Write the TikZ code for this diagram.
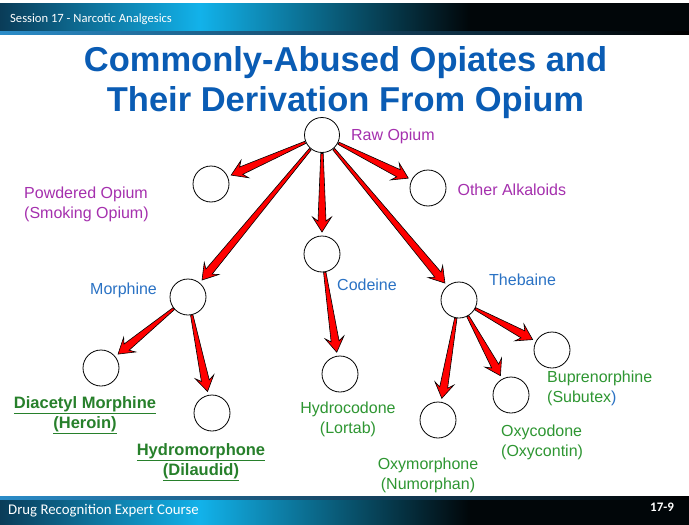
\documentclass[tikz,border=0pt]{standalone}
\usepackage{fontspec}
\setmainfont{Liberation Sans}
\newfontfamily\slidefont{Carlito}
\usepackage{xcolor}
\usetikzlibrary{positioning,calc}

\definecolor{titleblue}{HTML}{0A5CB4}
\definecolor{labelblue}{HTML}{2A72C4}
\definecolor{opiumpurple}{HTML}{A530AE}
\definecolor{drugreen}{HTML}{2E9632}
\definecolor{barcyan}{HTML}{12B2EA}
\definecolor{barteal}{HTML}{0A3C58}
\definecolor{barline}{HTML}{2B8CC8}

% tapered red arrow from one circle to another
\newcommand{\derive}[2]{%
  \coordinate (s) at ($(#1)!18.5pt!(#2)$);
  \coordinate (t) at ($(#2)!22pt!(#1)$);
  \coordinate (j) at ($(t)!11pt!(s)$);
  \coordinate (b) at ($(t)!15pt!(s)$);
  \filldraw[wedge] ($(s)!1.2pt!90:(t)$) -- ($(j)!4pt!90:(t)$) -- ($(b)!9.5pt!90:(t)$) -- (t)
    -- ($(b)!9.5pt!-90:(t)$) -- ($(j)!4pt!-90:(t)$) -- ($(s)!1.2pt!-90:(t)$) -- cycle;
}

\begin{document}
\begin{tikzpicture}[
    x=1pt, y=-1pt,
    node distance=10pt,
    opi/.style={draw, circle, thick, minimum size=36pt, inner sep=0pt, fill=white},
    wedge/.style={fill=red, draw=black, line width=0.6pt, line join=miter},
    lbl/.style={font=\fontsize{16}{20}\selectfont, inner sep=1pt},
    src/.style={lbl, text=opiumpurple, align=left},
    alk/.style={lbl, text=labelblue},
    prod/.style={lbl, text=drugreen, align=center},
    street/.style={lbl, text=drugreen!85!black, align=center, font=\fontsize{16.5}{20}\selectfont\bfseries},
    bartext/.style={text=white, inner sep=0pt, anchor=west}
  ]
    \useasboundingbox (0,0) rectangle (689,525);
    \fill[white] (0,0) rectangle (689,525);

    % header and footer bars
    \shade[left color=barteal, right color=barcyan] (0,3) rectangle (200,31);
    \shade[left color=barcyan, right color=black!90!barteal] (200,3) rectangle (470,31);
    \fill[black!90!barteal] (470,3) rectangle (689,31);
    \shade[left color=barline, right color=black] (0,31) rectangle (689,34);
    \shade[left color=barteal, right color=barcyan] (0,499) rectangle (200,525);
    \shade[left color=barcyan, right color=black!90!barteal] (200,499) rectangle (470,525);
    \fill[black!90!barteal] (470,499) rectangle (689,525);
    \shade[left color=barline, right color=black] (0,496) rectangle (689,499);
    \node[bartext, font=\slidefont\fontsize{12.6}{13}\selectfont] (session) at (10,19) {Session 17 - Narcotic Analgesics};
    \node[bartext, font=\slidefont\fontsize{14.8}{15}\selectfont] (course) at (8,511) {Drug Recognition Expert Course};
    \node[bartext, font=\slidefont\bfseries\fontsize{13}{14}\selectfont] (page) at (650,507) {17-9};

    % title
    \node[text=titleblue, align=center, font=\fontsize{34.5}{40}\selectfont\bfseries] (title) at (345.5,83)
      {Commonly-Abused Opiates and\\Their Derivation From Opium};

    % circles
    \node[opi, minimum size=35pt] (raw) at (322,135) {};
    \node[opi] (pow) at (211,184) {};
    \node[opi] (oth) at (428,188) {};
    \node[opi] (cod) at (322,254) {};
    \node[opi] (mor) at (188,297) {};
    \node[opi] (the) at (459,300) {};
    \node[opi] (her) at (101,368) {};
    \node[opi] (dil) at (212,413) {};
    \node[opi] (hyc) at (340,374) {};
    \node[opi] (oxm) at (438,420) {};
    \node[opi] (oxc) at (511,395) {};
    \node[opi] (bup) at (552,350) {};

    % arrows
    \derive{raw}{pow}
    \derive{raw}{oth}
    \derive{raw}{cod}
    \derive{raw}{mor}
    \derive{raw}{the}
    \derive{cod}{hyc}
    \derive{mor}{her}
    \derive{mor}{dil}
    \derive{the}{oxm}
    \derive{the}{oxc}
    \derive{the}{bup}

    % labels
    \node[src, right=10pt of raw, yshift=-1.5pt] (rawl) {Raw Opium};
    \node[src, anchor=west] (powl) at (23,204) {Powdered Opium\\(Smoking Opium)};
    \node[src, right=10pt of oth, yshift=-1.5pt] (othl) {Other Alkaloids};
    \node[alk, anchor=west] (codl) at (336,285) {Codeine};
    \node[alk, anchor=west] (morl) at (89,290) {Morphine};
    \node[alk, anchor=west] (thel) at (488,280) {Thebaine};
    \node[street] (herl) at (85,415) {\underline{Diacetyl Morphine}\\\underline{(Heroin)}};
    \node[street] (dill) at (201,462) {\underline{Hydromorphone}\\\underline{(Dilaudid)}};
    \node[prod] (hycl) at (348,419) {Hydrocodone\\(Lortab)};
    \node[prod] (oxml) at (428,475) {Oxymorphone\\(Numorphan)};
    \node[prod, align=left, anchor=west] (oxcl) at (500,442) {Oxycodone\\(Oxycontin)};
    \node[prod, align=left, anchor=west] (bupl) at (546,388) {Buprenorphine\\(Subutex\textcolor{labelblue}{)}};
  \end{tikzpicture}
\end{document}
